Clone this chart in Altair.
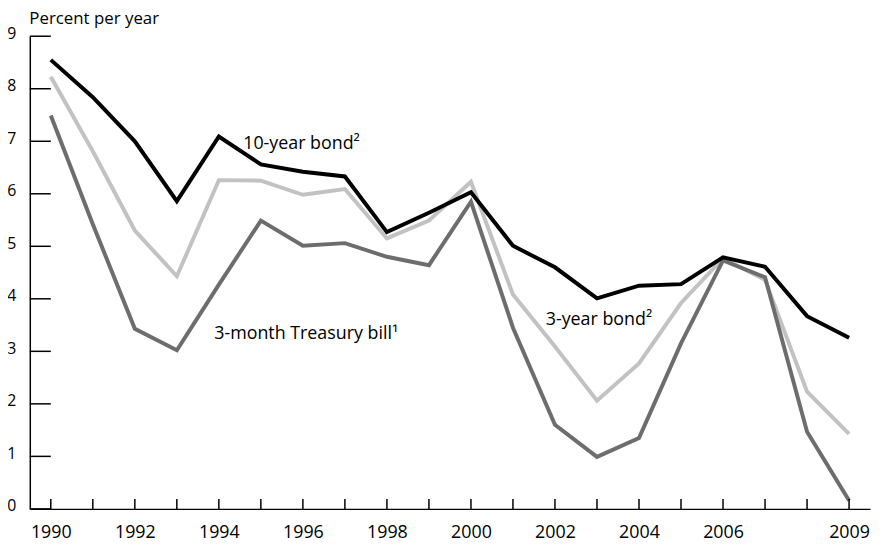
import altair as alt
import pandas as pd

years = list(range(1990, 2010))
ten_year = [8.55, 7.84, 7.00, 5.86, 7.09, 6.56, 6.42, 6.33, 5.27, 5.64, 6.03,
            5.01, 4.60, 4.01, 4.25, 4.28, 4.79, 4.61, 3.67, 3.26]
three_year = [8.23, 6.81, 5.30, 4.43, 6.26, 6.25, 5.98, 6.09, 5.15, 5.49, 6.23,
              4.08, 3.09, 2.06, 2.77, 3.92, 4.77, 4.36, 2.23, 1.43]
three_month = [7.49, 5.42, 3.43, 3.02, 4.27, 5.49, 5.01, 5.06, 4.80, 4.64, 5.85,
               3.45, 1.60, 0.99, 1.35, 3.15, 4.73, 4.41, 1.47, 0.16]

series_names = ["3-year bond", "3-month Treasury bill", "10-year bond"]
series_colors = ["#c2c2c2", "#6d6d70", "#000000"]

x_tick_labels = [1990, 1992, 1994, 1996, 1998, 2000, 2002, 2004, 2006, 2009]
y_ticks = list(range(0, 10))

label_texts = ["10-year bond\u00b2", "3-year bond\u00b2", "3-month Treasury bill\u00b9"]
label_x = [1994.58, 2001.78, 1993.89]
label_y = [6.85, 3.51, 3.23]

FONT = "Open Sans"

rows = []
for name, vals in [("3-year bond", three_year), ("3-month Treasury bill", three_month), ("10-year bond", ten_year)]:
    for yr, v in zip(years, vals):
        rows.append({"year": yr, "value": v, "series": name})
df = pd.DataFrame(rows)

xscale = alt.Scale(domain=[1989.5, 2009.5], nice=False, zero=False)
yscale = alt.Scale(domain=[0, 9], nice=False, zero=True)

x_axis = alt.Axis(values=x_tick_labels, format="d", ticks=False, grid=False,
                  labelFontSize=18, labelFont=FONT, labelColor="black",
                  labelFontWeight="normal",
                  labelPadding=15, labelBaseline="top",
                  domainColor="black", domainWidth=1.5, title=None)
y_axis = alt.Axis(values=y_ticks, ticks=False, grid=False,
                  labelFontSize=16, labelFont=FONT, labelColor="black",
                  labelFontWeight="normal",
                  labelPadding=14, labelOffset=-3,
                  domainColor="black", domainWidth=1.5,
                  title="Percent per year", titleAngle=0, titleAlign="left",
                  titleBaseline="top", titleX=-1, titleY=-26,
                  titleFontSize=17, titleFont=FONT, titleFontWeight="normal",
                  titleColor="black")

W, H = 848, 477

lines = alt.Chart(df).mark_line(strokeWidth=4, strokeJoin="miter").encode(
    x=alt.X("year:Q", scale=xscale, axis=x_axis),
    y=alt.Y("value:Q", scale=yscale, axis=y_axis),
    color=alt.Color("series:N", scale=alt.Scale(domain=series_names, range=series_colors), legend=None),
    detail="series:N",
    order="year:Q",
)

ytick_df = pd.DataFrame({"v": y_ticks, "x0": [1989.5] * len(y_ticks), "x1": [1990] * len(y_ticks)})
yticks = alt.Chart(ytick_df).mark_rule(color="black", strokeWidth=1.5).encode(
    x=alt.X("x0:Q", scale=xscale, axis=x_axis), x2="x1:Q",
    y=alt.Y("v:Q", scale=yscale, axis=y_axis)
)

xtick_df = pd.DataFrame({"year": years})
xticks = alt.Chart(xtick_df).mark_rule(color="black", strokeWidth=1.5).encode(
    x=alt.X("year:Q", scale=xscale, axis=x_axis), y=alt.value(H), y2=alt.value(H - 10)
)

lab_df = pd.DataFrame({"text": label_texts, "x": label_x, "y": label_y})
labels = alt.Chart(lab_df).mark_text(align="left", baseline="alphabetic", fontSize=18,
                                     font=FONT, color="black").encode(
    x=alt.X("x:Q", scale=xscale, axis=x_axis), y=alt.Y("y:Q", scale=yscale, axis=y_axis),
    text="text:N"
)

chart = alt.layer(lines, yticks, xticks, labels).properties(
    width=W, height=H,
    background="white",
    autosize=alt.AutoSizeParams(type="none"),
    padding={"left": 22, "top": 26, "right": 8, "bottom": 38},
).configure_view(strokeWidth=0, stroke="transparent")

chart.save("out.html", embed_options={"renderer": "svg", "actions": False})
